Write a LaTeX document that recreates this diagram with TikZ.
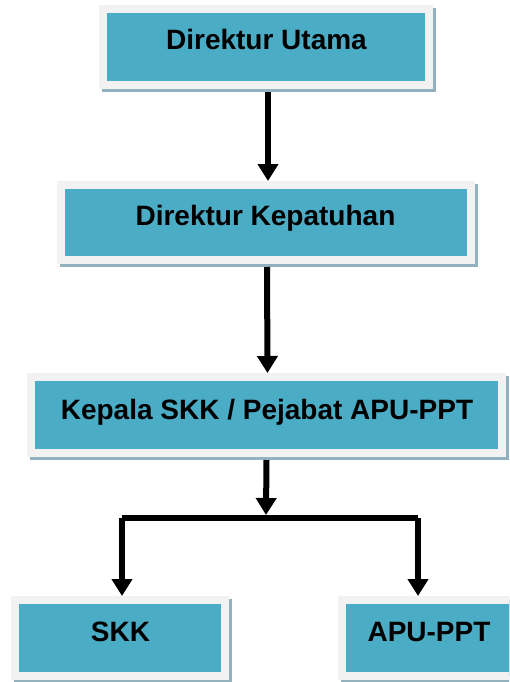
\documentclass[tikz,border=0pt]{standalone}
\usepackage{fontspec}
\setmainfont{Liberation Sans}
\usetikzlibrary{arrows.meta}
\definecolor{frame}{RGB}{242,242,242}
\definecolor{teal}{RGB}{75,172,198}
\definecolor{shadowc}{RGB}{148,178,190}
\tikzset{
  box/.style={draw=frame, fill=teal, line width=8pt, inner sep=0pt, outer sep=0pt},
  lbl/.style={anchor=base, inner sep=0pt, font=\fontsize{28}{34}\selectfont\bfseries},
  conn/.style={line width=6pt, line join=miter, -{Triangle[width=20pt,length=17pt]}},
  bar/.style={line width=6pt, line join=miter}
}
\newcommand{\boxshadow}[1]{\fill[shadowc] ([shift={(-1pt,1pt)}]#1.north west) rectangle ([shift={(7pt,-7pt)}]#1.south east);}
\begin{document}
\begin{tikzpicture}[x=1pt,y=-1pt]
\clip (0,0) rectangle (509,682);
\fill[white] (0,0) rectangle (509,682);
% boxes (positions are border centres)
\node[box, minimum width=326pt, minimum height=76pt] (b1) at (266,47) {};
\node[box, minimum width=410pt, minimum height=75pt] (b2) at (266,222.5) {};
\node[box, minimum width=471pt, minimum height=76pt] (b3) at (266.5,415) {};
\node[box, minimum width=210pt, minimum height=76pt] (b4) at (120,638) {};
\node[box, minimum width=174pt, minimum height=76pt] (b5) at (429,638) {};
\begin{scope}[on background layer/.style={}]
\end{scope}
% shadows drawn then boxes redrawn on top
\boxshadow{b1}\boxshadow{b2}\boxshadow{b3}\boxshadow{b4}\boxshadow{b5}
\node[box, minimum width=326pt, minimum height=76pt] at (266,47) {};
\node[box, minimum width=410pt, minimum height=75pt] at (266,222.5) {};
\node[box, minimum width=471pt, minimum height=76pt] at (266.5,415) {};
\node[box, minimum width=210pt, minimum height=76pt] at (120,638) {};
\node[box, minimum width=174pt, minimum height=76pt] at (429,638) {};
% labels
\node[lbl] (t1) at (266.5,50) {Direktur Utama};
\node[lbl] (t2) at (265.5,225) {Direktur Kepatuhan};
\node[lbl] (t3) at (267,419) {Kepala SKK / Pejabat APU-PPT};
\node[lbl] (t4) at (120.5,641) {SKK};
\node[lbl] (t5) at (429,641) {APU-PPT};
% connectors
\draw[conn] ([shift={(2pt,-7pt)}]b1.south) -- ([shift={(2pt,4pt)}]b2.north);
\draw[conn] ([shift={(1pt,-7pt)}]b2.south) -- ([shift={(1pt,4pt)}]b3.north);
\coordinate (jm) at (266,515);
\coordinate (jl) at (122,518);
\coordinate (jr) at (418,518);
\coordinate (e4) at ([shift={(2pt,4pt)}]b4.north);
\coordinate (e5) at ([shift={(-11pt,4pt)}]b5.north);
\draw[conn] ([yshift=-7pt]b3.south) -- (jm);
\draw[bar] (jl) -- (jr);
\draw[conn] (jl) -- (jl |- e4);
\draw[conn] (jr) -- (jr |- e5);
\end{tikzpicture}
\end{document}
